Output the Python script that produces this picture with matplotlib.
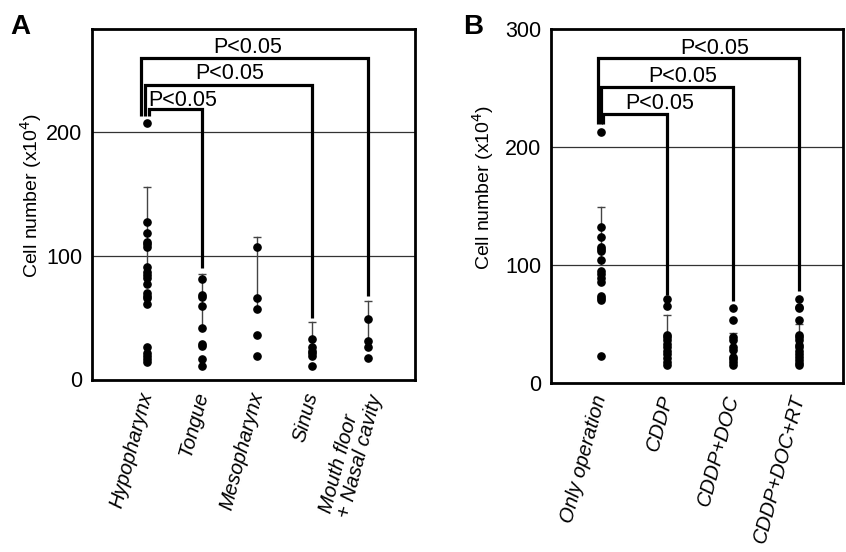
import matplotlib
matplotlib.use("Agg")
import matplotlib.pyplot as plt

plt.rcParams['font.family'] = ['Liberation Sans', 'DejaVu Sans']

# ---------------- Panel A data ----------------
a_categories = ["Hypopharynx", "Tongue", "Mesopharynx", "Sinus", "Mouth floor\n+ Nasal cavity"]
a_points = [
    [207.6, 127.6, 118.7, 110.6, 109.2, 107.3, 90.8, 87.0, 84.3, 82.1, 77.0, 69.4, 67.2,
     65.4, 60.7, 25.5, 21.1, 18.5, 16.0, 13.8],
    [81.1, 68.0, 66.7, 59.1, 41.5, 28.2, 26.6, 15.8, 10.6],
    [107.3, 65.9, 56.7, 35.5, 18.5],
    [32.3, 25.5, 22.8, 20.6, 18.5, 10.6],
    [48.3, 30.7, 25.5, 16.6],
]
a_mean = [78.0, 44.2, 56.8, 21.7, 30.3]
a_sd = [77.7, 40.9, 58.6, 24.1, 32.6]
# brackets: target category index, top level, bottom of right leg
a_br_target = [1, 3, 4]
a_br_top = [218.9, 238.4, 260.5]
a_br_right_bottom = [90.1, 49.5, 67.4]
a_br_left_bottom = 213.2
a_br_text = ["P<0.05", "P<0.05", "P<0.05"]
a_br_text_x = [1.65, 2.49, 2.82]
a_br_text_y = [221.5, 243.0, 264.6]

# ---------------- Panel B data ----------------
b_categories = ["Only operation", "CDDP", "CDDP+DOC", "CDDP+DOC+RT"]
b_points = [
    [212.6, 132.1, 123.6, 115.1, 113.4, 112.0, 104.3, 95.2, 92.5, 88.8, 86.0, 73.8, 71.8,
     70.4, 23.2],
    [71.0, 65.6, 40.7, 38.8, 36.5, 33.1, 30.3, 27.4, 24.3, 21.0, 18.1, 15.3],
    [63.9, 53.4, 38.8, 36.5, 30.3, 28.0, 22.3, 20.1, 18.1, 15.3],
    [71.0, 64.7, 63.4, 53.4, 40.7, 38.8, 36.5, 32.2, 30.3, 27.4, 24.6, 21.8, 19.5, 17.2, 15.3],
]
b_mean = [101.0, 35.2, 32.7, 37.1]
b_sd = [48.5, 22.5, 9.5, 12.9]
b_br_target = [1, 2, 3]
b_br_top = [228.2, 251.3, 275.4]
b_br_right_bottom = [74.6, 69.5, 78.3]
b_br_left_bottom = 219.4
b_br_text = ["P<0.05", "P<0.05", "P<0.05"]
b_br_text_x = [1.88, 2.24, 2.72]
b_br_text_y = [232.1, 255.6, 278.8]

fig = plt.figure(figsize=(8.46, 5.52), dpi=100)
axA = fig.add_axes([0.1087, 0.3116, 0.3818, 0.6353])
axB = fig.add_axes([0.651, 0.3062, 0.3455, 0.6407])


def draw_panel(ax, cats, pts, mean, sd, br_target, br_top, br_rb, br_lb,
               br_text, br_tx, br_ty, left_offsets, ylim, xlim, yticks, grid):
    xs = list(range(1, len(cats) + 1))
    for g in grid:
        ax.axhline(g, color='#333333', lw=0.9, zorder=1)
    for x, m, s in zip(xs, mean, sd):
        ax.plot([x, x], [m, m + s], color='#444444', lw=1.0, zorder=2)
        ax.plot([x], [m + s], marker='_', ms=6, mew=1.0, color='#444444', zorder=2)
    for x, p in zip(xs, pts):
        ax.plot([x] * len(p), p, 'o', color='black', ms=5.2, mec='black', zorder=3)
    for t, top, rb, off, txt, tx, ty in zip(br_target, br_top, br_rb, left_offsets,
                                             br_text, br_tx, br_ty):
        xl = xs[0] + off
        xr = xs[t]
        ax.plot([xl, xl, xr, xr], [br_lb, top, top, rb], color='black', lw=2.3,
                solid_joinstyle='miter', solid_capstyle='butt', zorder=4)
        ax.text(tx, ty, txt, ha='center', va='baseline', fontsize=15.5, zorder=5)
    ax.set_xlim(*xlim)
    ax.set_ylim(*ylim)
    ax.set_yticks(yticks)
    ax.set_yticklabels([str(v) for v in yticks], fontsize=15.5)
    ax.set_xticks(xs)
    ax.set_xticklabels(cats, fontsize=14.6, style='italic', rotation=75,
                       ha='right', va='center', rotation_mode='anchor',
                       multialignment='left', linespacing=1.0)
    ax.tick_params(axis='both', length=0)
    ax.tick_params(axis='y', pad=7)
    ax.tick_params(axis='x', pad=9)
    for sp in ax.spines.values():
        sp.set_linewidth(2.0)
        sp.set_color('black')


draw_panel(axA, a_categories, a_points, a_mean, a_sd, a_br_target, a_br_top,
           a_br_right_bottom, a_br_left_bottom, a_br_text, a_br_text_x, a_br_text_y,
           [0.03, -0.04, -0.115], (-1, 283.6), (0, 5.86), [0, 100, 200], [100, 200])
draw_panel(axB, b_categories, b_points, b_mean, b_sd, b_br_target, b_br_top,
           b_br_right_bottom, b_br_left_bottom, b_br_text, b_br_text_x, b_br_text_y,
           [0.035, 0.0, -0.04], (0, 300), (0.24, 4.66), [0, 100, 200, 300], [100, 200])

axA.text(-0.189, 0.5275, "Cell number (x10$^4$)", transform=axA.transAxes, rotation=90,
         ha='center', va='center', fontsize=14)
axB.text(-0.232, 0.553, "Cell number (x10$^4$)", transform=axB.transAxes, rotation=90,
         ha='center', va='center', fontsize=14)

fig.text(10 / 846, 1 - 34 / 552, "A", fontsize=20, fontweight='bold', ha='left', va='baseline')
fig.text(463 / 846, 1 - 34 / 552, "B", fontsize=20, fontweight='bold', ha='left', va='baseline')

fig.savefig("out.png", dpi=100)
